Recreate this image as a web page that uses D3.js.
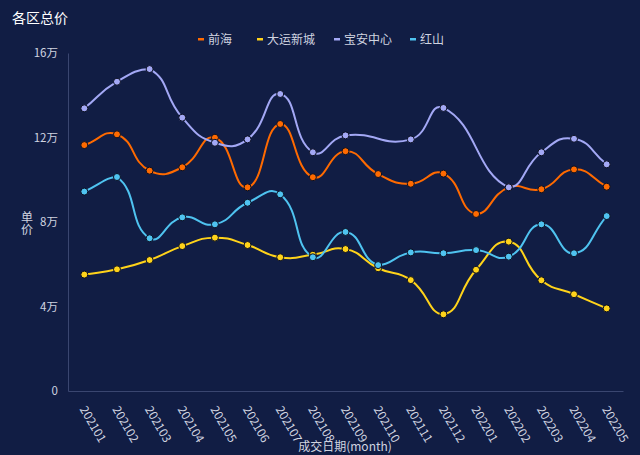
<!DOCTYPE html>
<html>
<head>
<meta charset="utf-8">
<script src="https://cdn.jsdelivr.net/npm/d3@7/dist/d3.min.js"></script>
<style>
  body { margin: 0; background: #111d44; }
  svg { display: block; font-family: "Noto Sans CJK SC", "Noto Sans", sans-serif; }
</style>
</head>
<body>
<svg id="chart" width="640" height="455"></svg>
<script>
// data (unit: 万)
var months = ["202101","202102","202103","202104","202105","202106","202107","202108","202109",
              "202110","202111","202112","202201","202202","202203","202204","202205"];
var seriesNames = ["前海", "大运新城", "宝安中心", "红山"];
var qianhai  = [11.64, 12.15, 10.43, 10.59, 11.99, 9.64, 12.64, 10.12, 11.35, 10.27, 9.81, 10.29, 8.38, 9.64, 9.55, 10.49, 9.67];
var dayun    = [5.51, 5.76, 6.20, 6.86, 7.26, 6.91, 6.33, 6.45, 6.72, 5.81, 5.25, 3.63, 5.74, 7.07, 5.24, 4.58, 3.91];
var baoan    = [13.38, 14.64, 15.24, 12.94, 11.75, 11.91, 14.06, 11.30, 12.10, null, 11.91, 13.40, null, 9.64, 11.30, 11.94, 10.73];
var hongshan = [9.44, 10.13, 7.23, 8.22, 7.89, 8.91, 9.31, 6.33, 7.53, 5.96, 6.56, 6.52, 6.67, 6.36, 7.89, 6.52, 8.28];
var yTicks = [0, 4, 8, 12, 16];

var colors = ["#ff6a00", "#ffd31a", "#a3a8f5", "#4fc3f0"];
var allSeries = [qianhai, dayun, baoan, hongshan];

var svg = d3.select("#chart");
var padLeft = 68, padRight = 623, padTop = 53, padBottom = 391;

var x = d3.scaleBand().domain(months).range([padLeft, padRight]);
var y = d3.scaleLinear().domain([0, 16]).range([padBottom, padTop]);
var cx = function(m) { return x(m) + x.bandwidth() / 2; };

// smooth curve like echarts (smooth 0.5, clamped to points bbox)
function SmoothCurve(context) { this._context = context; }
SmoothCurve.prototype = {
  areaStart: function() {}, areaEnd: function() {},
  lineStart: function() { this._pts = []; },
  point: function(px, py) { this._pts.push([+px, +py]); },
  lineEnd: function() {
    var p = this._pts, n = p.length, ctx = this._context, s = 0.5;
    if (!n) return;
    var minX = d3.min(p, d => d[0]), maxX = d3.max(p, d => d[0]);
    var minY = d3.min(p, d => d[1]), maxY = d3.max(p, d => d[1]);
    var cps = p.map(function(pt, i) {
      var prev = p[i - 1] || pt, next = p[i + 1] || pt;
      var vx = next[0] - prev[0], vy = next[1] - prev[1];
      var l0 = Math.hypot(pt[0] - prev[0], pt[1] - prev[1]);
      var l1 = Math.hypot(next[0] - pt[0], next[1] - pt[1]);
      var r = (l0 + l1) ? l1 / (l0 + l1) : 0.5;
      var clamp = function(c) {
        return [Math.max(minX, Math.min(maxX, c[0])), Math.max(minY, Math.min(maxY, c[1]))];
      };
      return {
        next: clamp([pt[0] + vx * s * r, pt[1] + vy * s * r]),
        prev: clamp([pt[0] - vx * s * (1 - r), pt[1] - vy * s * (1 - r)])
      };
    });
    ctx.moveTo(p[0][0], p[0][1]);
    for (var i = 0; i < n - 1; i++) {
      ctx.bezierCurveTo(cps[i].next[0], cps[i].next[1], cps[i + 1].prev[0], cps[i + 1].prev[1], p[i + 1][0], p[i + 1][1]);
    }
  }
};
var smooth = function(context) { return new SmoothCurve(context); };

// title
svg.append("text")
  .attr("x", 12).attr("y", 23)
  .attr("fill", "#ffffff")
  .attr("font-size", 14)
  .text("各区总价");

// legend
var legendX = [198, 257, 334, 410];
seriesNames.forEach(function(name, i) {
  var g = svg.append("g").attr("transform", "translate(" + legendX[i] + ",39)");
  g.append("rect").attr("x", 0).attr("y", -1).attr("width", 6).attr("height", 2.5).attr("fill", colors[i]);
  g.append("text").attr("x", 10).attr("y", 4.5)
    .attr("fill", "#d0d4e0").attr("font-size", 12).text(name);
});

// y axis
var yAxis = svg.append("g")
  .attr("transform", "translate(" + padLeft + ",0)")
  .call(d3.axisLeft(y).tickValues(yTicks).tickSize(0).tickPadding(10)
    .tickFormat(function(d) { return d === 0 ? "0" : d + "万"; }));
yAxis.select(".domain").attr("stroke", "#3a4670");
yAxis.selectAll("text").attr("fill", "#d0d4e0").attr("font-size", 11.5)
  .attr("font-family", "\"Noto Sans CJK SC\", sans-serif");

// y axis name, written vertically
svg.append("text").attr("x", 27).attr("y", 211)
  .style("writing-mode", "vertical-rl")
  .attr("fill", "#d0d4e0").attr("font-size", 12).text("单价");

// x axis
var xAxis = svg.append("g")
  .attr("transform", "translate(0," + padBottom + ")")
  .call(d3.axisBottom(x).tickSize(0).tickPadding(0));
xAxis.select(".domain").attr("stroke", "#3a4670");
xAxis.selectAll("text")
  .attr("fill", "#d0d4e0").attr("font-size", 12)
  .attr("font-family", "\"Noto Sans CJK SC\", sans-serif")
  .attr("text-anchor", "start")
  .attr("dy", null)
  .attr("transform", "translate(-5,18) rotate(60)");

svg.append("text").attr("x", 345).attr("y", 451).attr("text-anchor", "middle")
  .attr("fill", "#d0d4e0").attr("font-size", 12).text("成交日期(month)");

// lines
var line = d3.line()
  .defined(function(d) { return d.v !== null; })
  .x(function(d) { return cx(d.m); })
  .y(function(d) { return y(d.v); })
  .curve(smooth);

allSeries.forEach(function(vals, i) {
  var valid = months.map(function(m, j) { return { m: m, v: vals[j] }; })
    .filter(function(d) { return d.v !== null; });
  svg.append("path")
    .datum(valid)
    .attr("d", line)
    .attr("fill", "none")
    .attr("stroke", colors[i])
    .attr("stroke-width", 2);
});

allSeries.forEach(function(vals, i) {
  var valid = months.map(function(m, j) { return { m: m, v: vals[j] }; })
    .filter(function(d) { return d.v !== null; });
  svg.append("g").selectAll("circle")
    .data(valid)
    .join("circle")
    .attr("cx", function(d) { return cx(d.m); })
    .attr("cy", function(d) { return y(d.v); })
    .attr("r", 3.5)
    .attr("fill", colors[i])
    .attr("stroke", "#0a0f22")
    .attr("stroke-width", 1);
});
</script>
</body>
</html>
